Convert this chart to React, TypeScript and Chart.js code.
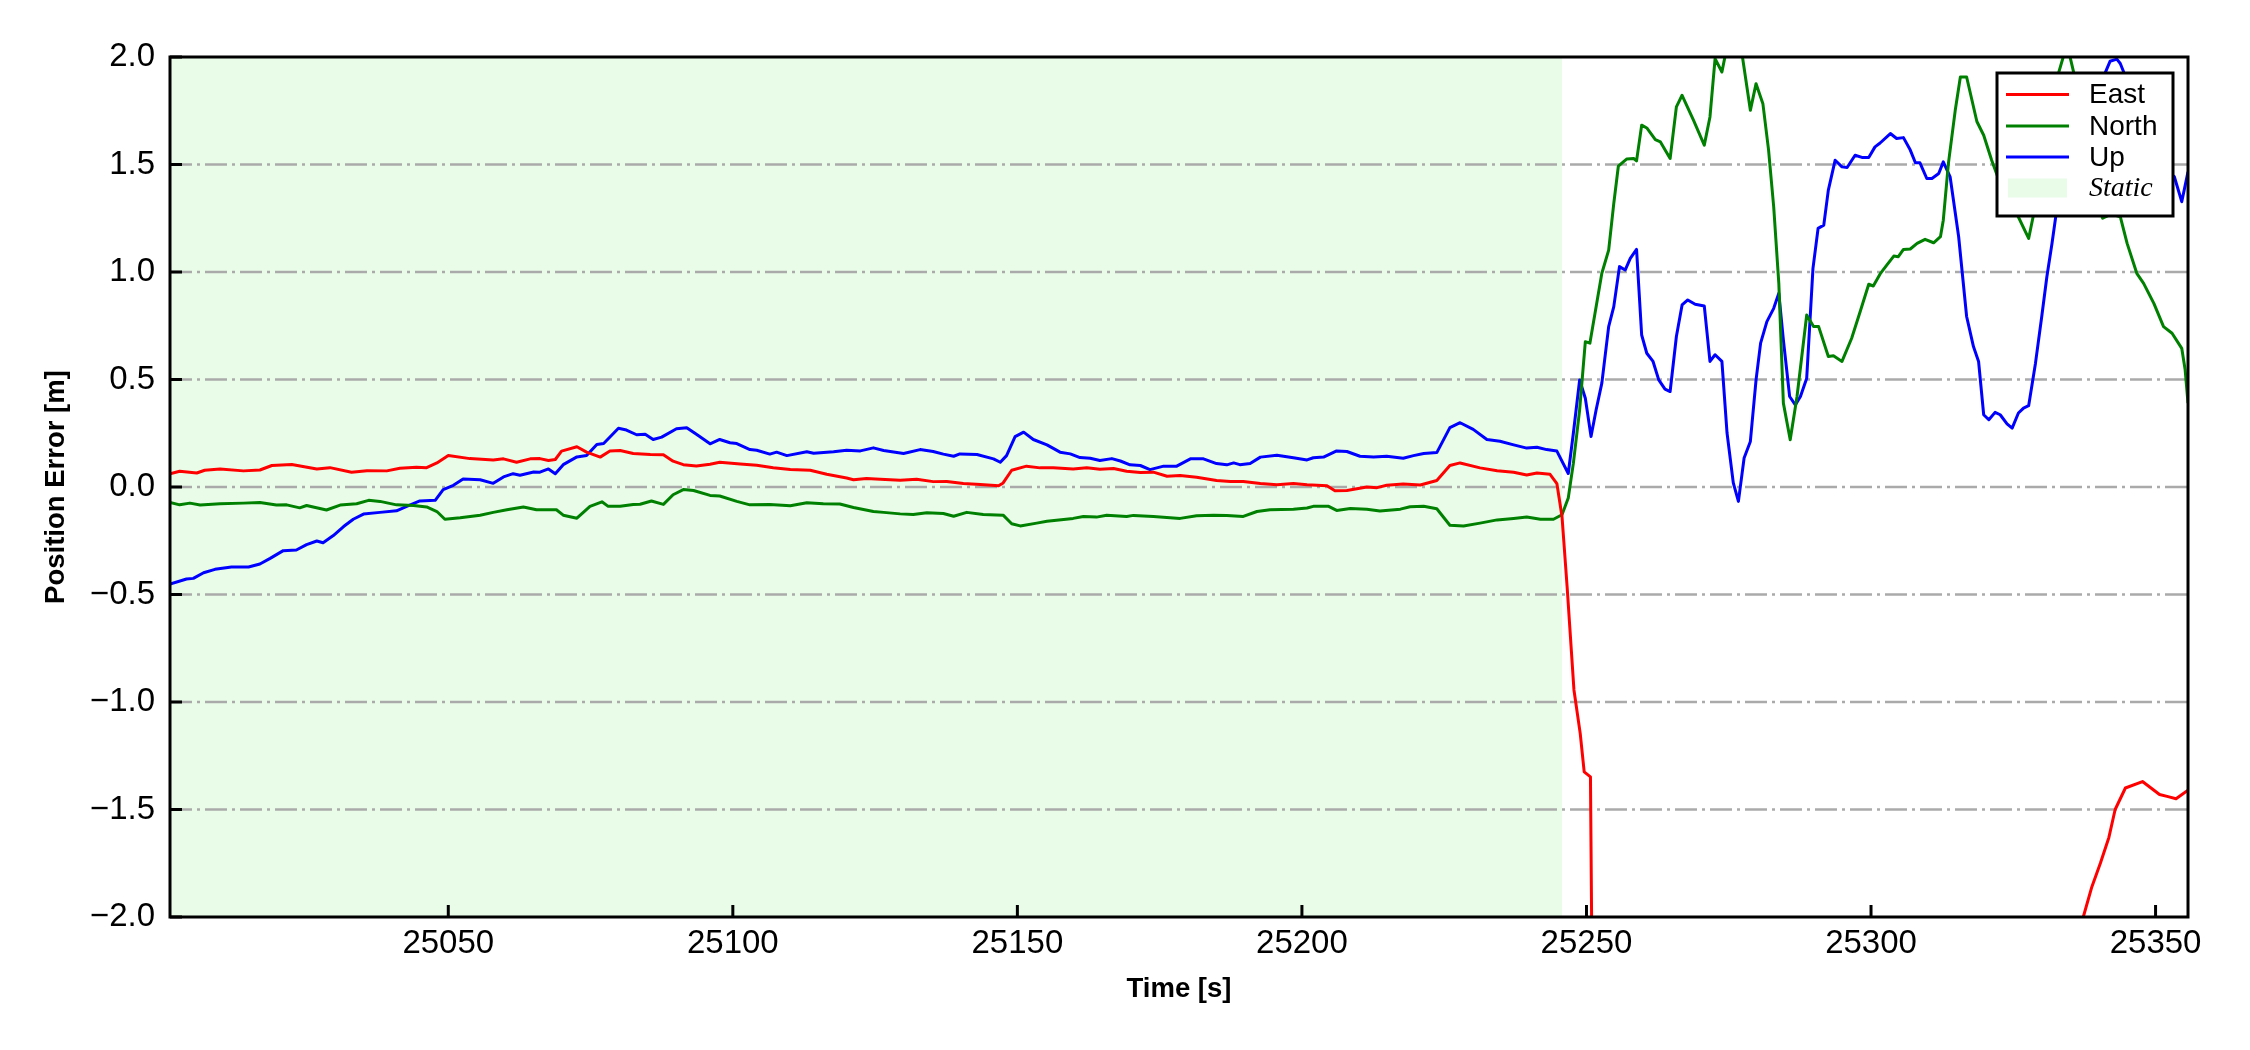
import React, { useEffect, useRef } from 'react';
import { Chart, registerables } from 'chart.js';

Chart.register(...registerables);

// ---------------- data ----------------
const xMin = 25001.1;
const xMax = 25355.7;
const yMin = -2;
const yMax = 2;
const xTicks = [25050, 25100, 25150, 25200, 25250, 25300, 25350];
const yTicks = [-2, -1.5, -1, -0.5, 0, 0.5, 1, 1.5, 2];
const staticSpan = [25001.1, 25245.7];
const seriesLabels = ['East', 'North', 'Up'];
const staticLabel = 'Static';

const eastData: [number, number][] = [
  [25001.1, 0.062], [25002.8, 0.073], [25005.8, 0.065], [25007.2, 0.078], [25009.9, 0.084],
  [25014.0, 0.075], [25016.9, 0.079], [25019.0, 0.100], [25022.5, 0.105], [25026.9, 0.084],
  [25029.2, 0.090], [25033.0, 0.069], [25035.7, 0.076], [25039.2, 0.075], [25041.5, 0.087],
  [25044.4, 0.092], [25046.2, 0.090], [25048.0, 0.112], [25050.0, 0.146], [25053.8, 0.132],
  [25057.9, 0.126], [25059.7, 0.131], [25062.0, 0.115], [25064.4, 0.131], [25066.1, 0.132],
  [25067.6, 0.123], [25068.8, 0.128], [25069.9, 0.167], [25072.6, 0.187], [25074.3, 0.162],
  [25076.7, 0.139], [25078.4, 0.167], [25080.2, 0.170], [25082.5, 0.156], [25085.5, 0.151],
  [25087.8, 0.150], [25089.5, 0.120], [25091.3, 0.104], [25093.6, 0.098], [25096.0, 0.106],
  [25097.7, 0.115], [25101.3, 0.107], [25104.2, 0.101], [25107.1, 0.090], [25110.1, 0.081],
  [25113.6, 0.078], [25116.5, 0.059], [25120.0, 0.042], [25121.2, 0.034], [25123.5, 0.040],
  [25125.9, 0.036], [25129.4, 0.031], [25132.3, 0.036], [25135.2, 0.025], [25137.6, 0.026],
  [25140.5, 0.016], [25143.5, 0.012], [25146.7, 0.006], [25147.5, 0.019], [25149.0, 0.078],
  [25151.6, 0.097], [25154.0, 0.089], [25156.3, 0.090], [25159.8, 0.084], [25162.2, 0.089],
  [25164.5, 0.083], [25166.9, 0.086], [25169.2, 0.073], [25171.6, 0.067], [25173.9, 0.069],
  [25176.3, 0.050], [25178.6, 0.053], [25181.5, 0.045], [25185.0, 0.030], [25187.4, 0.026],
  [25189.7, 0.026], [25192.7, 0.016], [25195.6, 0.011], [25198.5, 0.016], [25200.9, 0.011],
  [25204.4, 0.006], [25205.8, -0.017], [25207.9, -0.016], [25211.4, 0.000], [25213.2, -0.003],
  [25214.9, 0.008], [25217.8, 0.014], [25220.8, 0.009], [25223.7, 0.030], [25226.0, 0.100],
  [25227.8, 0.112], [25231.3, 0.089], [25234.3, 0.076], [25237.2, 0.069], [25239.5, 0.056],
  [25241.3, 0.065], [25243.6, 0.059], [25244.8, 0.016], [25245.7, -0.137], [25246.6, -0.464],
  [25247.8, -0.944], [25248.9, -1.146], [25249.6, -1.325], [25250.7, -1.348], [25251.7, -4.6],
  [25265.0, -5.2], [25285.0, -5.6], [25305.0, -5.0], [25325.0, -3.6], [25334.5, -2.7],
  [25336.3, -2.3], [25337.3, -2.0], [25338.8, -1.86], [25340.3, -1.75], [25341.8, -1.63],
  [25342.9, -1.50], [25344.7, -1.40], [25347.7, -1.37], [25350.7, -1.43], [25352.2, -1.44],
  [25353.6, -1.45], [25355.7, -1.41],
];

const northData: [number, number][] = [
  [25001.1, -0.072], [25002.8, -0.083], [25004.6, -0.075], [25006.4, -0.084], [25009.9, -0.078],
  [25014.0, -0.075], [25016.9, -0.072], [25019.8, -0.084], [25021.6, -0.083], [25023.9, -0.097],
  [25025.1, -0.086], [25028.6, -0.107], [25031.0, -0.084], [25033.9, -0.078], [25036.0, -0.062],
  [25038.0, -0.067], [25040.9, -0.083], [25043.9, -0.086], [25046.2, -0.093], [25048.0, -0.114],
  [25049.4, -0.150], [25052.1, -0.143], [25055.6, -0.131], [25057.9, -0.118], [25060.3, -0.106],
  [25063.2, -0.093], [25065.5, -0.106], [25069.0, -0.106], [25070.2, -0.131], [25072.6, -0.145],
  [25074.9, -0.090], [25077.0, -0.069], [25078.1, -0.090], [25080.2, -0.090], [25082.5, -0.081],
  [25083.7, -0.080], [25085.7, -0.065], [25087.8, -0.081], [25089.5, -0.036], [25091.3, -0.012],
  [25093.1, -0.016], [25096.0, -0.039], [25097.7, -0.042], [25100.7, -0.067], [25103.0, -0.083],
  [25106.5, -0.081], [25110.1, -0.087], [25113.0, -0.073], [25115.9, -0.078], [25118.8, -0.079],
  [25121.2, -0.095], [25124.7, -0.114], [25126.5, -0.118], [25129.4, -0.125], [25131.7, -0.128],
  [25134.1, -0.120], [25137.0, -0.123], [25138.8, -0.136], [25141.1, -0.118], [25144.0, -0.128],
  [25147.5, -0.131], [25149.0, -0.171], [25150.5, -0.181], [25153.4, -0.168], [25155.2, -0.159],
  [25159.8, -0.146], [25161.6, -0.137], [25163.9, -0.140], [25165.7, -0.131], [25169.2, -0.137],
  [25170.4, -0.132], [25173.9, -0.137], [25178.6, -0.146], [25181.5, -0.134], [25184.5, -0.131],
  [25186.8, -0.132], [25189.7, -0.137], [25192.1, -0.114], [25194.4, -0.106], [25198.5, -0.103],
  [25200.9, -0.098], [25202.0, -0.090], [25204.7, -0.090], [25206.1, -0.109], [25208.5, -0.100],
  [25211.4, -0.104], [25213.7, -0.112], [25217.3, -0.103], [25219.0, -0.092], [25221.4, -0.090],
  [25223.7, -0.101], [25226.0, -0.178], [25228.4, -0.181], [25231.3, -0.168], [25234.3, -0.153],
  [25237.2, -0.146], [25239.5, -0.140], [25241.9, -0.150], [25244.2, -0.150], [25245.7, -0.129],
  [25246.8, -0.051], [25247.7, 0.111], [25248.8, 0.359], [25249.8, 0.676], [25250.6, 0.669],
  [25251.5, 0.808], [25252.7, 0.994], [25253.9, 1.102], [25254.8, 1.319], [25255.6, 1.492],
  [25257.1, 1.526], [25258.3, 1.528], [25258.8, 1.517], [25259.7, 1.683], [25260.6, 1.670],
  [25262.1, 1.616], [25263.0, 1.605], [25264.7, 1.528], [25265.8, 1.768], [25266.8, 1.822],
  [25268.8, 1.706], [25270.7, 1.590], [25271.7, 1.721], [25272.6, 1.992], [25273.8, 1.930],
  [25274.7, 2.05], [25276.0, 2.08], [25277.3, 2.02], [25278.8, 1.752], [25279.8, 1.876],
  [25281.0, 1.783], [25282.0, 1.567], [25282.9, 1.303], [25283.8, 0.947], [25284.6, 0.390],
  [25285.8, 0.220], [25287.0, 0.421], [25288.7, 0.800], [25289.9, 0.746], [25290.8, 0.746],
  [25292.5, 0.607], [25293.4, 0.610], [25294.9, 0.584], [25296.6, 0.692], [25298.1, 0.816],
  [25299.6, 0.943], [25300.4, 0.935], [25301.6, 0.991], [25302.8, 1.033], [25304.0, 1.074],
  [25304.8, 1.071], [25305.7, 1.105], [25306.9, 1.107], [25308.1, 1.133], [25309.5, 1.152],
  [25311.0, 1.136], [25312.2, 1.164], [25312.7, 1.241], [25313.6, 1.505], [25314.8, 1.752],
  [25315.7, 1.907], [25316.8, 1.907], [25318.6, 1.700], [25319.8, 1.636], [25321.2, 1.520],
  [25322.7, 1.412], [25325.6, 1.272], [25327.7, 1.156], [25328.6, 1.272], [25330.9, 1.60],
  [25333.0, 1.93], [25334.0, 2.02], [25334.8, 2.02], [25335.6, 1.93], [25337.5, 1.60],
  [25339.5, 1.35], [25340.7, 1.25], [25342.3, 1.27], [25343.8, 1.257], [25345.0, 1.133],
  [25346.7, 0.994], [25347.9, 0.947], [25349.7, 0.854], [25351.4, 0.746], [25352.9, 0.715],
  [25354.6, 0.645], [25355.2, 0.545], [25355.7, 0.390],
];

const upData: [number, number][] = [
  [25001.1, -0.452], [25004.0, -0.428], [25005.2, -0.425], [25007.0, -0.399], [25009.0, -0.383],
  [25011.9, -0.372], [25014.9, -0.372], [25016.9, -0.358], [25018.7, -0.332], [25021.0, -0.296],
  [25023.3, -0.293], [25025.1, -0.268], [25026.9, -0.251], [25028.0, -0.259], [25029.8, -0.226],
  [25031.6, -0.184], [25033.3, -0.150], [25035.1, -0.126], [25038.0, -0.118], [25040.9, -0.111],
  [25042.7, -0.090], [25045.0, -0.065], [25047.7, -0.062], [25049.1, -0.012], [25050.9, 0.008],
  [25052.6, 0.037], [25055.6, 0.034], [25057.9, 0.017], [25059.7, 0.047], [25061.4, 0.062],
  [25062.6, 0.055], [25065.0, 0.070], [25066.1, 0.069], [25067.6, 0.084], [25068.8, 0.062],
  [25070.2, 0.104], [25072.6, 0.140], [25074.3, 0.146], [25076.1, 0.198], [25077.3, 0.202],
  [25079.9, 0.273], [25081.3, 0.265], [25083.1, 0.243], [25084.6, 0.245], [25086.0, 0.221],
  [25087.5, 0.232], [25090.1, 0.271], [25091.9, 0.276], [25093.6, 0.245], [25096.0, 0.201],
  [25097.7, 0.221], [25099.5, 0.206], [25100.7, 0.202], [25103.0, 0.174], [25104.2, 0.171],
  [25106.5, 0.153], [25107.7, 0.162], [25109.5, 0.146], [25113.0, 0.164], [25114.2, 0.157],
  [25117.7, 0.164], [25120.0, 0.171], [25122.4, 0.168], [25124.7, 0.182], [25126.5, 0.170],
  [25130.0, 0.156], [25132.9, 0.174], [25135.2, 0.165], [25137.0, 0.153], [25138.8, 0.143],
  [25139.9, 0.154], [25142.9, 0.151], [25145.8, 0.131], [25147.0, 0.115], [25148.1, 0.146],
  [25149.6, 0.234], [25151.1, 0.255], [25152.8, 0.221], [25155.2, 0.196], [25157.5, 0.162],
  [25159.3, 0.154], [25161.0, 0.137], [25162.8, 0.134], [25164.5, 0.123], [25166.6, 0.132],
  [25168.1, 0.121], [25169.8, 0.103], [25171.6, 0.100], [25173.3, 0.081], [25175.7, 0.097],
  [25178.0, 0.097], [25180.4, 0.131], [25182.7, 0.131], [25185.0, 0.109], [25186.8, 0.103],
  [25188.0, 0.112], [25189.1, 0.104], [25190.9, 0.109], [25192.7, 0.139], [25195.6, 0.148],
  [25198.5, 0.136], [25200.9, 0.126], [25202.0, 0.136], [25203.8, 0.139], [25206.1, 0.168],
  [25207.9, 0.165], [25210.2, 0.143], [25212.6, 0.139], [25214.9, 0.143], [25217.8, 0.134],
  [25219.6, 0.146], [25221.4, 0.156], [25223.7, 0.160], [25226.0, 0.276], [25227.8, 0.299],
  [25230.1, 0.268], [25232.5, 0.221], [25234.8, 0.213], [25237.2, 0.196], [25239.5, 0.181],
  [25241.3, 0.185], [25243.0, 0.174], [25244.8, 0.167], [25246.8, 0.063], [25247.7, 0.251],
  [25248.8, 0.498], [25249.8, 0.413], [25250.8, 0.235], [25251.7, 0.359], [25252.7, 0.483],
  [25253.9, 0.746], [25254.8, 0.839], [25255.8, 1.025], [25256.8, 1.009], [25257.7, 1.063],
  [25258.8, 1.105], [25259.7, 0.707], [25260.6, 0.622], [25261.7, 0.584], [25262.7, 0.498],
  [25263.8, 0.455], [25264.7, 0.444], [25265.8, 0.700], [25266.8, 0.847], [25267.8, 0.870],
  [25269.1, 0.850], [25270.7, 0.842], [25271.7, 0.584], [25272.6, 0.615], [25273.8, 0.584],
  [25274.7, 0.251], [25275.8, 0.019], [25276.7, -0.067], [25277.7, 0.135], [25278.8, 0.212],
  [25279.8, 0.498], [25280.6, 0.669], [25281.7, 0.769], [25282.9, 0.831], [25283.8, 0.901],
  [25284.6, 0.684], [25285.7, 0.421], [25286.7, 0.382], [25287.6, 0.421], [25288.7, 0.506],
  [25289.8, 1.017], [25290.7, 1.203], [25291.7, 1.218], [25292.5, 1.381], [25293.7, 1.520],
  [25294.9, 1.489], [25295.8, 1.486], [25297.2, 1.543], [25298.4, 1.533], [25299.6, 1.533],
  [25300.7, 1.582], [25301.6, 1.600], [25303.4, 1.644], [25304.5, 1.621], [25305.7, 1.625],
  [25306.9, 1.567], [25307.8, 1.508], [25308.6, 1.508], [25309.8, 1.435], [25310.7, 1.435],
  [25311.9, 1.458], [25312.7, 1.512], [25313.9, 1.443], [25315.4, 1.164], [25316.8, 0.793],
  [25318.0, 0.653], [25318.9, 0.584], [25319.8, 0.336], [25320.7, 0.313], [25321.8, 0.347],
  [25322.7, 0.336], [25323.9, 0.294], [25324.8, 0.274], [25325.9, 0.344], [25326.8, 0.367],
  [25327.7, 0.378], [25328.9, 0.576], [25330.0, 0.793], [25330.9, 0.978], [25331.8, 1.133],
  [25332.7, 1.303], [25334.0, 1.50], [25336.0, 1.65], [25338.0, 1.75], [25340.0, 1.85],
  [25341.2, 1.93], [25342.0, 1.98], [25343.2, 1.99], [25343.8, 1.97], [25344.4, 1.93],
  [25346.0, 1.75], [25348.0, 1.60], [25350.0, 1.52], [25352.0, 1.47], [25353.3, 1.443],
  [25354.6, 1.327], [25355.7, 1.466],
];

// ---------------- styles ----------------
const COLORS = ['#ff0000', '#008000', '#0000ff'];
const STATIC_FILL = '#e8fce8';
const GRID_COLOR = '#aaaaaa';
const SANS = '"Liberation Sans", Arial, sans-serif';
const SERIF = '"Liberation Serif", "Times New Roman", serif';

const fmtY = (v: number) => {
  const s = Math.abs(v).toFixed(1);
  return v < 0 ? '\u2212' + s : s;
};

const backgroundPlugin = {
  id: 'bgGrid',
  beforeDatasetsDraw(chart: any) {
    const { ctx, chartArea: ca, scales } = chart;
    const x = scales.x;
    const y = scales.y;
    ctx.save();
    const x0 = Math.max(ca.left, x.getPixelForValue(staticSpan[0]));
    const x1 = x.getPixelForValue(staticSpan[1]);
    ctx.fillStyle = STATIC_FILL;
    ctx.fillRect(x0, ca.top, x1 - x0, ca.bottom - ca.top);
    ctx.strokeStyle = GRID_COLOR;
    ctx.lineWidth = 2.5;
    ctx.setLineDash([22, 5, 3, 5]);
    for (const v of yTicks) {
      if (v <= yMin || v >= yMax) continue;
      const py = y.getPixelForValue(v);
      ctx.beginPath();
      ctx.moveTo(ca.left, py);
      ctx.lineTo(ca.right, py);
      ctx.stroke();
    }
    ctx.restore();
  },
};

const framePlugin = {
  id: 'frameTicks',
  afterDatasetsDraw(chart: any) {
    const { ctx, chartArea: ca, scales } = chart;
    ctx.save();
    ctx.strokeStyle = '#000';
    ctx.lineWidth = 3;
    ctx.setLineDash([]);
    // inward ticks
    for (const v of xTicks) {
      const px = scales.x.getPixelForValue(v);
      ctx.beginPath();
      ctx.moveTo(px, ca.bottom);
      ctx.lineTo(px, ca.bottom - 12);
      ctx.stroke();
    }
    for (const v of yTicks) {
      const py = scales.y.getPixelForValue(v);
      ctx.beginPath();
      ctx.moveTo(ca.left, py);
      ctx.lineTo(ca.left + 12, py);
      ctx.stroke();
    }
    ctx.strokeRect(ca.left, ca.top, ca.right - ca.left, ca.bottom - ca.top);
    ctx.restore();
  },
};

const legendPlugin = {
  id: 'boxLegend',
  afterDraw(chart: any) {
    const { ctx, chartArea: ca } = chart;
    const w = 176;
    const h = 143;
    const left = ca.right - 15 - w;
    const top = ca.top + 16;
    ctx.save();
    ctx.fillStyle = '#fff';
    ctx.fillRect(left, top, w, h);
    ctx.strokeStyle = '#000';
    ctx.lineWidth = 3;
    ctx.strokeRect(left, top, w, h);
    const rows = [21.5, 53, 84, 115];
    ctx.textBaseline = 'middle';
    ctx.textAlign = 'left';
    chart.data.datasets.forEach((ds: any, i: number) => {
      const ry = top + rows[i];
      ctx.strokeStyle = ds.borderColor;
      ctx.lineWidth = 3;
      ctx.beginPath();
      ctx.moveTo(left + 9, ry);
      ctx.lineTo(left + 72, ry);
      ctx.stroke();
      ctx.fillStyle = '#000';
      ctx.font = '28px ' + SANS;
      ctx.fillText(ds.label, left + 92, ry + 1);
    });
    const ry = top + rows[3];
    ctx.fillStyle = STATIC_FILL;
    ctx.fillRect(left + 11, ry - 9.5, 59, 19);
    ctx.fillStyle = '#000';
    ctx.font = 'italic 28px ' + SERIF;
    ctx.fillText(staticLabel, left + 92, ry + 1);
    ctx.restore();
  },
};

export default function App() {
  const ref = useRef<HTMLCanvasElement | null>(null);

  useEffect(() => {
    if (!ref.current) return;
    const toXY = (arr: [number, number][]) => arr.map(([x, y]) => ({ x, y }));
    const datasets = [eastData, northData, upData].map((d, i) => ({
      label: seriesLabels[i],
      data: toXY(d),
      borderColor: COLORS[i],
      backgroundColor: COLORS[i],
      borderWidth: 3,
      pointRadius: 0,
      pointHoverRadius: 0,
      tension: 0,
      fill: false,
      clip: 0,
      borderJoinStyle: 'round' as const,
    }));

    const chart = new Chart(ref.current, {
      type: 'line',
      data: { datasets },
      options: {
        animation: false,
        responsive: false,
        devicePixelRatio: 1,
        parsing: false as any,
        events: [],
        layout: { padding: { left: 0, right: 62, top: 57, bottom: 0 } },
        plugins: {
          legend: { display: false },
          tooltip: { enabled: false },
        },
        scales: {
          x: {
            type: 'linear',
            min: xMin,
            max: xMax,
            afterFit: (s: any) => { s.height = 133; },
            afterBuildTicks: (s: any) => { s.ticks = xTicks.map((v) => ({ value: v })); },
            ticks: {
              color: '#000',
              font: { family: SANS, size: 33 },
              padding: 7,
              maxRotation: 0,
              autoSkip: false,
              callback: (v: any) => String(v),
            },
            grid: { display: false, drawTicks: false },
            border: { display: false },
            title: {
              display: true,
              text: 'Time [s]',
              color: '#000',
              font: { family: SANS, size: 27.5, weight: 'bold' },
              padding: { top: 0, bottom: 44 },
            },
          },
          y: {
            type: 'linear',
            min: yMin,
            max: yMax,
            afterFit: (s: any) => { s.width = 170; },
            afterBuildTicks: (s: any) => { s.ticks = yTicks.map((v) => ({ value: v })); },
            ticks: {
              color: '#000',
              font: { family: SANS, size: 33 },
              padding: 15,
              autoSkip: false,
              callback: (v: any) => fmtY(Number(v)),
            },
            grid: { display: false, drawTicks: false },
            border: { display: false },
            title: {
              display: true,
              text: 'Position Error [m]',
              color: '#000',
              font: { family: SANS, size: 27.5, weight: 'bold' },
              padding: { top: 40, bottom: 0 },
            },
          },
        },
      },
      plugins: [backgroundPlugin, framePlugin, legendPlugin],
    } as any);

    return () => chart.destroy();
  }, []);

  return (
    <div style={{ position: 'absolute', left: 0, top: 0, width: 2250, height: 1050, background: '#fff' }}>
      <canvas ref={ref} width={2250} height={1050} style={{ display: 'block', width: 2250, height: 1050 }} />
    </div>
  );
}
